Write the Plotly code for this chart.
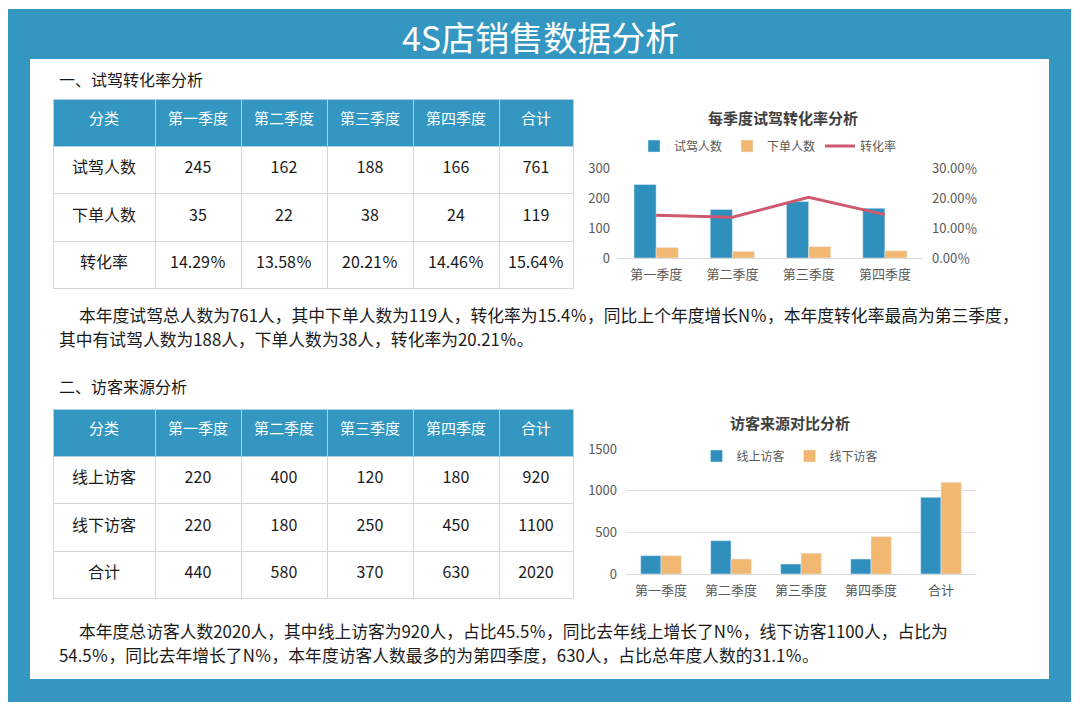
import plotly.graph_objects as go

W, H = 1080, 713
FONT = "Noto Sans CJK SC"
BLUE = "#3397c1"
BAR_BLUE = "#2f90bd"
ORANGE = "#f2b872"
LINE_RED = "#cf5a6f"

# ---------------- data ----------------
quarters = ["第一季度", "第二季度", "第三季度", "第四季度"]
table_header = ["分类", "第一季度", "第二季度", "第三季度", "第四季度", "合计"]

test_drive = [245, 162, 188, 166]
test_drive_total = 761
orders = [35, 22, 38, 24]
orders_total = 119
rate_labels = ["14.29％", "13.58％", "20.21％", "14.46％"]
rate_total_label = "15.64％"
rates = [0.1429, 0.1358, 0.2021, 0.1446]
rate_ticks = [0, 0.1, 0.2, 0.3]
rate_tick_text = ["0.00％", "10.00％", "20.00％", "30.00％"]

visitor_cats = ["第一季度", "第二季度", "第三季度", "第四季度", "合计"]
online = [220, 400, 120, 180, 920]
offline = [220, 180, 250, 450, 1100]
visitor_sum = [440, 580, 370, 630, 2020]

title_text = "4S店销售数据分析"
sec1 = "一、试驾转化率分析"
sec2 = "二、访客来源分析"
para1 = ["本年度试驾总人数为761人，其中下单人数为119人，转化率为15.4％，同比上个年度增长N％，本年度转化率最高为第三季度，",
         "其中有试驾人数为188人，下单人数为38人，转化率为20.21％。"]
para2 = ["本年度总访客人数2020人，其中线上访客为920人，占比45.5％，同比去年线上增长了N％，线下访客1100人，占比为",
         "54.5％，同比去年增长了N％，本年度访客人数最多的为第四季度，630人，占比总年度人数的31.1％。"]


def px(x):
    return x / W


def py(y):
    return 1 - y / H


fig = go.Figure()

# ---------------- tables ----------------
col_w = [102, 86, 86, 86, 86, 74]


def cell_text(v, size):
    # empty first line pushes the visible text towards the cell's middle
    return f"<br><span style='font-size:{size}px'>{v}</span>"


t1_cols = [["试驾人数", "下单人数", "转化率"]]
for i in range(4):
    t1_cols.append([test_drive[i], orders[i], rate_labels[i]])
t1_cols.append([test_drive_total, orders_total, rate_total_label])

t2_cols = [["线上访客", "线下访客", "合计"]]
for i in range(5):
    t2_cols.append([online[i], offline[i], visitor_sum[i]])


def add_table(cols, y_top):
    fig.add_trace(go.Table(
        domain=dict(x=[px(53), px(573)], y=[py(y_top + 195), py(y_top)]),
        columnwidth=col_w,
        header=dict(values=[cell_text(v, 15) for v in table_header], fill_color=BLUE,
                    align="center", line=dict(color="#a9d2e6", width=1),
                    font=dict(family=FONT, size=13, color="white"), height=47),
        cells=dict(values=[[cell_text(v, 16) for v in col] for col in cols],
                   fill_color="white", align="center",
                   line=dict(color="#d5d5d5", width=1),
                   font=dict(family=FONT, size=13, color="#1a1a1a"), height=47.5),
    ))


add_table(t1_cols, 99)
add_table(t2_cols, 409)

# ---------------- chart 1 ----------------
fig.add_trace(go.Bar(x=quarters, y=test_drive, name="试驾人数", marker_color=BAR_BLUE,
                     xaxis="x", yaxis="y", legend="legend"))
fig.add_trace(go.Bar(x=quarters, y=orders, name="下单人数", marker_color=ORANGE,
                     xaxis="x", yaxis="y", legend="legend"))
fig.add_trace(go.Scatter(x=quarters, y=rates, name="转化率", mode="lines",
                         line=dict(color=LINE_RED, width=3),
                         xaxis="x", yaxis="y2", legend="legend"))

# ---------------- chart 2 ----------------
fig.add_trace(go.Bar(x=visitor_cats, y=online, name="线上访客", marker_color=BAR_BLUE,
                     xaxis="x3", yaxis="y3", legend="legend2"))
fig.add_trace(go.Bar(x=visitor_cats, y=offline, name="线下访客", marker_color=ORANGE,
                     xaxis="x3", yaxis="y3", legend="legend2"))

tick_font = dict(family=FONT, size=13, color="#595959")

fig.update_layout(
    width=W, height=H, margin=dict(l=0, r=0, t=0, b=0, pad=0, autoexpand=False),
    paper_bgcolor="white", plot_bgcolor="rgba(0,0,0,0)",
    barmode="group", bargap=0.42, bargroupgap=0,
    font=dict(family=FONT),
    xaxis=dict(domain=[px(618), px(923)], showline=True, linecolor="#d9d9d9", linewidth=1,
               ticks="", tickfont=tick_font, showgrid=False, fixedrange=True,
               ticklabelstandoff=4),
    yaxis=dict(domain=[py(258), py(168)], range=[0, 300], dtick=100, showgrid=False,
               zeroline=False, tickfont=tick_font, ticks="", fixedrange=True,
               ticklabelstandoff=7),
    yaxis2=dict(overlaying="y", side="right", range=[0, 0.3], tickvals=rate_ticks,
                ticktext=rate_tick_text, showgrid=False, zeroline=False,
                tickfont=tick_font, ticks="", fixedrange=True, ticklabelstandoff=8),
    xaxis3=dict(domain=[px(626), px(976)], anchor="y3", showline=True, linecolor="#d9d9d9",
                ticks="", tickfont=tick_font, showgrid=False, fixedrange=True,
                ticklabelstandoff=4),
    yaxis3=dict(domain=[py(574), py(449)], anchor="x3", range=[0, 1500], dtick=500,
                showgrid=True, gridcolor="#dedede", zeroline=False, tickfont=tick_font,
                ticks="", fixedrange=True, ticklabelstandoff=8),
    legend=dict(orientation="h", x=px(768), xanchor="center", y=py(146), yanchor="middle",
                font=dict(family=FONT, size=12, color="#595959"), bgcolor="rgba(0,0,0,0)",
                itemwidth=30, tracegroupgap=0),
    legend2=dict(orientation="h", x=px(790), xanchor="center", y=py(456), yanchor="middle",
                 font=dict(family=FONT, size=12, color="#595959"), bgcolor="rgba(0,0,0,0)",
                 itemwidth=30),
)

# ---------------- frame ----------------
fig.add_shape(type="rect", xref="paper", yref="paper", x0=px(8), x1=px(1071), y0=py(702), y1=py(9),
              fillcolor=BLUE, line_width=0, layer="below")
fig.add_shape(type="rect", xref="paper", yref="paper", x0=px(30), x1=px(1049), y0=py(679), y1=py(59),
              fillcolor="white", line_width=0, layer="below")


# ---------------- texts ----------------
def ann(text, x, y, size, color, xanchor="left", bold=False):
    fig.add_annotation(text=f"<b>{text}</b>" if bold else text, x=px(x), y=py(y),
                       xref="paper", yref="paper", xanchor=xanchor, yanchor="middle",
                       showarrow=False, font=dict(family=FONT, size=size, color=color))


ann(title_text, 540, 36, 34, "white", xanchor="center")
ann(sec1, 57, 79, 16, "#1a1a1a")
ann(sec2, 57, 386, 16, "#1a1a1a")
ann(para1[0], 77, 315, 16.8, "#1a1a1a")
ann(para1[1], 57, 339, 16.8, "#1a1a1a")
ann(para2[0], 77, 631, 16.8, "#1a1a1a")
ann(para2[1], 57, 655, 16.8, "#1a1a1a")
ann("每季度试驾转化率分析", 783, 117, 15, "#404040", xanchor="center", bold=True)
ann("访客来源对比分析", 790, 422, 15, "#404040", xanchor="center", bold=True)

fig.write_html(
    "out.html",
    config={"displayModeBar": False},
    post_script=("document.body.style.margin='0';document.body.style.overflow='hidden';"
                 "var g=document.getElementById('{plot_id}');g.style.position='absolute';"
                 "g.style.left='0px';g.style.top='0px';"),
)
